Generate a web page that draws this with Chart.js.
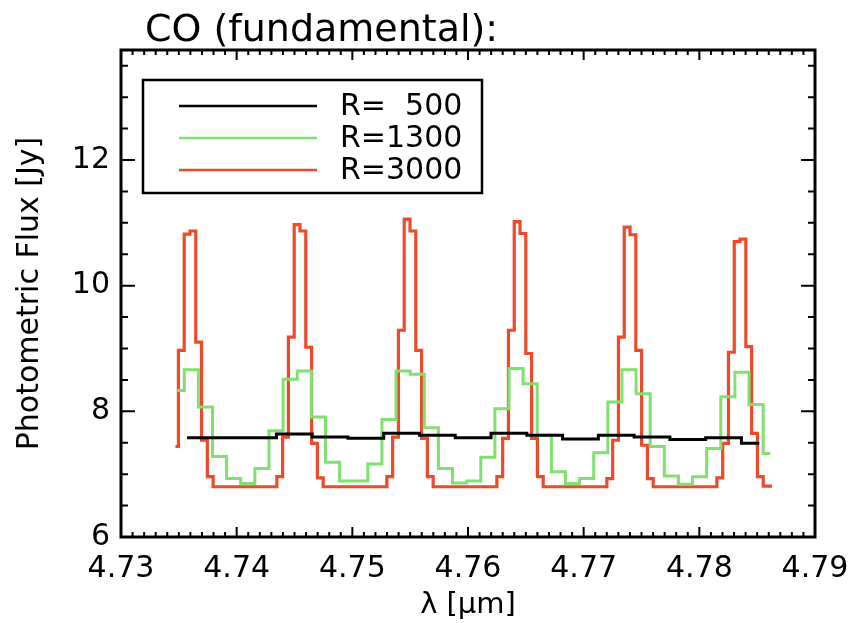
<!DOCTYPE html>
<html>
<head>
<meta charset="utf-8">
<title>CO (fundamental)</title>
<script src="https://cdn.jsdelivr.net/npm/chart.js@4.4.1/dist/chart.umd.min.js"></script>
<style>
  html, body { margin: 0; padding: 0; background: #fff; }
</style>
</head>
<body>
<canvas id="canvas" width="868" height="623"></canvas>
<script>
const canvas = document.getElementById('canvas');
const ctx = canvas.getContext('2d');

const headline = 'CO (fundamental):';
const labels = ['R=  500', 'R=1300', 'R=3000'];
const xTicks = [4.73, 4.74, 4.75, 4.76, 4.77, 4.78, 4.79];
const yTicks = [6, 8, 10, 12];

// first bin centre and bin width (micron) of each binned spectrum
const start500 = 4.735706, step500 = 0.0030924;
const start1300 = 4.734859, step1300 = 0.0012207;
const start3000 = 4.734712, step3000 = 0.0005006;

// flux per bin [Jy]
const flux500 = [7.58, 7.58, 7.58, 7.64, 7.59, 7.57, 7.65, 7.62, 7.58, 7.65,
                 7.62, 7.56, 7.62, 7.59, 7.55, 7.58, 7.49];

const flux1300 = [8.33, 8.66, 8.07, 7.28, 6.93, 6.85, 7.09, 7.69, 8.51, 8.64,
                  7.91, 7.19, 6.89, 6.89, 7.16, 7.87, 8.64, 8.59, 7.74, 7.09,
                  6.86, 6.89, 7.27, 8.04, 8.68, 8.44, 7.62, 7.04, 6.85, 6.93,
                  7.34, 8.15, 8.66, 8.28, 7.44, 6.97, 6.84, 6.96, 7.41, 8.23,
                  8.62, 8.11, 7.33];

const flux3000 = [
  7.44, 8.97, 10.82, 10.87, 9.10, 7.54, 6.96,
  6.80, 6.80, 6.80, 6.80, 6.80, 6.80, 6.80, 6.80, 6.80, 6.80, 6.80,
  6.96, 7.59, 9.18, 10.97, 10.87, 9.02, 7.49, 6.94,
  6.80, 6.80, 6.80, 6.80, 6.80, 6.80, 6.80, 6.80, 6.80, 6.80, 6.80,
  6.96, 7.59, 9.29, 11.06, 10.87, 8.97, 7.57, 6.96,
  6.80, 6.80, 6.80, 6.80, 6.80, 6.80, 6.80, 6.80, 6.80, 6.80, 6.80,
  6.96, 7.57, 9.29, 11.02, 10.83, 8.92, 7.57, 6.96,
  6.80, 6.80, 6.80, 6.80, 6.80, 6.80, 6.80, 6.80, 6.80, 6.80, 6.80,
  6.93, 7.54, 9.18, 10.93, 10.81, 8.97, 7.46, 6.93,
  6.80, 6.80, 6.80, 6.80, 6.80, 6.80, 6.80, 6.80, 6.80, 6.80, 6.80,
  6.94, 7.49, 8.94, 10.70, 10.74, 9.03, 7.65, 6.96, 6.81, 6.81
];

const colors = ['#000000', '#80e070', '#ec4a2a'];
const font = 'DejaVu Sans';

function binned(start, step, flux) {
  return flux.map((f, i) => ({ x: start + i * step, y: f }));
}

// box around the plot with inward major/minor ticks on all four sides
const frame = {
  id: 'frame',
  afterDatasetsDraw(chart) {
    const { ctx, chartArea: a, scales: { x, y } } = chart;
    ctx.save();
    ctx.strokeStyle = '#000';
    ctx.lineWidth = 2;
    ctx.beginPath();
    for (let k = 0; k <= 60; k++) {
      const px = x.getPixelForValue(4.73 + k * 0.001);
      const len = k % 10 === 0 ? 10 : 5;
      ctx.moveTo(px, a.bottom); ctx.lineTo(px, a.bottom - len);
      ctx.moveTo(px, a.top); ctx.lineTo(px, a.top + len);
    }
    for (let v = 6; v <= 13.75; v += 0.5) {
      const py = y.getPixelForValue(v);
      const len = v % 2 === 0 ? 14 : 7;
      ctx.moveTo(a.left, py); ctx.lineTo(a.left + len, py);
      ctx.moveTo(a.right, py); ctx.lineTo(a.right - len, py);
    }
    ctx.stroke();
    ctx.lineWidth = 3;
    ctx.strokeRect(a.left, a.top, a.right - a.left, a.bottom - a.top);
    ctx.restore();
  }
};

// legend box in the upper left of the plot, plus the headline
const legendBox = {
  id: 'legendBox',
  afterDraw(chart) {
    const { ctx } = chart;
    ctx.save();
    ctx.fillStyle = '#000';
    ctx.font = '38px "' + font + '"';
    ctx.textBaseline = 'alphabetic';
    ctx.fillText(headline, 145, 41);

    ctx.strokeStyle = '#000';
    ctx.lineWidth = 2.5;
    ctx.fillStyle = '#fff';
    ctx.fillRect(143, 80, 339, 113);
    ctx.strokeRect(143, 80, 339, 113);
    ctx.font = '30px "' + font + '"';
    ctx.textBaseline = 'middle';
    chart.data.datasets.forEach((ds, i) => {
      const ly = 106 + i * 32;
      ctx.strokeStyle = ds.borderColor;
      ctx.lineWidth = 2.5;
      ctx.beginPath();
      ctx.moveTo(179, ly); ctx.lineTo(317, ly);
      ctx.stroke();
      ctx.fillStyle = '#000';
      ctx.fillText(ds.label, 340, ly + 1);
    });
    ctx.restore();
  }
};

new Chart(ctx, {
  type: 'line',
  data: {
    datasets: [
      { label: labels[0], data: binned(start500, step500, flux500), borderColor: colors[0], borderWidth: 3 },
      { label: labels[1], data: binned(start1300, step1300, flux1300), borderColor: colors[1], borderWidth: 3 },
      { label: labels[2], data: binned(start3000, step3000, flux3000), borderColor: colors[2], borderWidth: 3.2 }
    ]
  },
  options: {
    responsive: false,
    animation: false,
    layout: { padding: { top: 50, right: 53, left: 0, bottom: 0 } },
    elements: {
      point: { radius: 0 },
      line: { stepped: 'middle', fill: false }
    },
    plugins: { legend: { display: false }, tooltip: { enabled: false } },
    scales: {
      x: {
        type: 'linear',
        min: 4.73,
        max: 4.79,
        grid: { display: false, drawTicks: false },
        border: { display: false },
        afterBuildTicks(s) { s.ticks = xTicks.map(v => ({ value: v })); },
        afterFit(s) { s.height = 86; },
        ticks: {
          padding: 14,
          color: '#000',
          font: { family: font, size: 30 },
          maxRotation: 0,
          callback: v => v.toFixed(2)
        },
        title: {
          display: true,
          text: 'λ [μm]',
          color: '#000',
          font: { family: font, size: 29 },
          padding: { top: 0, bottom: 0 }
        }
      },
      y: {
        min: 6,
        max: 13.75,
        grid: { display: false, drawTicks: false },
        border: { display: false },
        afterBuildTicks(s) { s.ticks = yTicks.map(v => ({ value: v })); },
        afterFit(s) { s.width = 121; },
        ticks: {
          padding: 11,
          color: '#000',
          font: { family: font, size: 30 },
          callback: v => String(v)
        },
        title: {
          display: true,
          text: 'Photometric Flux [Jy]',
          color: '#000',
          font: { family: font, size: 30 },
          padding: { top: 12, bottom: 0 }
        }
      }
    }
  },
  plugins: [frame, legendBox]
});
</script>
</body>
</html>
